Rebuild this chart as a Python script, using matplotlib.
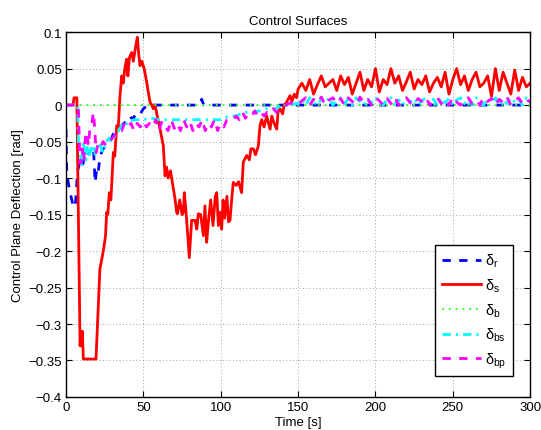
import numpy as np
import matplotlib
matplotlib.use('Agg')
import matplotlib.pyplot as plt

plt.rcParams['font.family'] = ['Liberation Sans', 'DejaVu Sans']
plt.rcParams['mathtext.fontset'] = 'custom'
plt.rcParams['mathtext.rm'] = 'Liberation Sans'
plt.rcParams['mathtext.it'] = 'Liberation Sans'

## data
# tail (150-300 s) sampled every 2.5 s
t_tail = [150 + 2.5*i for i in range(61)]

# delta_s (red)
t_s = [0, 4.5, 5.2, 7.0, 9.1, 9.6, 10.1, 10.6, 11.2, 19.4, 21.9, 24.1, 25.5, 26.3, 27, 28, 29,
       30.6, 31.5, 32.8, 33.8, 34.9, 36, 37, 38, 39.2, 40, 41, 42.5, 43.5, 45, 46.1, 47, 47.8,
       49, 50.5, 52.2, 53, 54.3, 55.5, 56.4, 57.5, 58.5, 60.8, 62.9, 64, 65, 66, 67.5, 69.4,
       70.5, 71.5, 72, 73.5, 75, 75.8, 76.5, 78, 79.7, 81.2, 83.4, 84.5, 85.5, 87, 88.8, 89.8,
       90.9, 92, 93.5, 95, 96.5, 97.4, 98.5, 99.5, 100.6, 101.5, 102.5, 104, 105, 106, 107.1,
       108.1, 110, 111.5, 113.5, 114.6, 116.8, 118.5, 119.5, 121.1, 122.5, 124.3, 125.4, 126.5,
       128, 129.7, 131.9, 133, 134.5, 136.2, 137, 138.3, 140, 141, 142.6, 144.8, 146, 147.5, 149]
d_s = [0, 0, 0.01, 0.01, -0.33, -0.31, -0.33, -0.31, -0.348, -0.348, -0.225, -0.2, -0.18,
       -0.147, -0.15, -0.12, -0.13, -0.065, -0.07, -0.028, -0.03, 0.013, 0.04, 0.03, 0.05,
       0.063, 0.04, 0.065, 0.072, 0.06, 0.08, 0.093, 0.07, 0.054, 0.06, 0.05, 0.031, 0.02,
       0.004, 0.0, -0.005, 0.0, -0.01, -0.033, -0.056, -0.097, -0.085, -0.1, -0.09, -0.115,
       -0.129, -0.147, -0.149, -0.13, -0.15, -0.147, -0.12, -0.158, -0.209, -0.158, -0.158,
       -0.17, -0.149, -0.15, -0.179, -0.138, -0.188, -0.16, -0.13, -0.165, -0.125, -0.12,
       -0.165, -0.147, -0.17, -0.13, -0.155, -0.125, -0.16, -0.158, -0.129, -0.106, -0.11,
       -0.105, -0.12, -0.078, -0.069, -0.075, -0.06, -0.06, -0.068, -0.056, -0.028, -0.02,
       -0.03, -0.015, -0.033, -0.015, -0.025, -0.033, -0.01, -0.005, -0.012, 0.0, 0.004,
       0.013, 0.005, 0.015, 0.01]
d_s_tail = [0.022, 0.03, 0.02, 0.035, 0.015, 0.028, 0.04, 0.025, 0.03, 0.035, 0.02, 0.04,
            0.028, 0.038, 0.015, 0.03, 0.045, 0.02, 0.035, 0.025, 0.05, 0.018, 0.035, 0.028,
            0.05, 0.03, 0.04, 0.02, 0.032, 0.045, 0.022, 0.035, 0.028, 0.04, 0.018, 0.03,
            0.038, 0.025, 0.045, 0.015, 0.035, 0.05, 0.028, 0.04, 0.02, 0.035, 0.045, 0.025,
            0.03, 0.04, 0.012, 0.05, 0.02, 0.045, 0.03, 0.015, 0.048, 0.02, 0.038, 0.025, 0.03]

# delta_r (blue)
t_r = [0, 0.5, 2.6, 4.7, 6, 7.5, 9, 10.5, 12, 13.4, 15, 16.5, 17.7, 18.8, 20, 20.9, 22, 24,
       26, 28.4, 30.5, 32.8, 35, 38.1, 40, 41.4, 43, 45.7, 48, 50, 53, 86, 87.7, 89, 150]
d_r = [-0.033, -0.095, -0.12, -0.138, -0.14, -0.09, -0.078, -0.085, -0.07, -0.074, -0.065,
       -0.06, -0.056, -0.106, -0.085, -0.09, -0.07, -0.06, -0.055, -0.051, -0.04, -0.033,
       -0.03, -0.024, -0.02, -0.015, -0.02, -0.01, -0.012, -0.005, 0.0, 0.0, 0.008, 0.0, 0.0]
d_r_tail = [0.0]*61

# delta_b (green)
t_b = [0, 300]
d_b = [0, 0]

# delta_bs (cyan)
t_bs = [0, 7.5, 8, 9, 10, 11, 12, 13, 14, 15, 16, 17, 18, 19, 20, 22, 24, 26, 28, 30, 32, 34,
        36, 38, 40, 45, 50, 55, 60, 70, 80, 90, 100, 105, 110, 115, 120, 125, 130, 135, 140,
        145, 148]
d_bs = [0, 0, -0.05, -0.06, -0.085, -0.05, -0.06, -0.075, -0.055, -0.07, -0.06, -0.065,
        -0.055, -0.07, -0.06, -0.055, -0.065, -0.05, -0.045, -0.05, -0.04, -0.035, -0.028,
        -0.03, -0.022, -0.02, -0.02, -0.018, -0.02, -0.02, -0.02, -0.02, -0.02, -0.015,
        -0.015, -0.01, -0.01, -0.008, -0.005, -0.005, 0.0, 0.0, 0.002]
d_bs_tail = [0.002, 0.008, 0.0, 0.01, 0.004, 0.0, 0.009, 0.003, 0.01, 0.0, 0.006, 0.01,
             0.002, 0.008, 0.0, 0.01, 0.005, 0.0, 0.009, 0.002, 0.01, 0.004, 0.0, 0.008,
             0.01, 0.002, 0.007, 0.0, 0.01, 0.004, 0.009, 0.0, 0.006, 0.01, 0.002, 0.008,
             0.0, 0.01, 0.003, 0.009, 0.0, 0.007, 0.01, 0.002, 0.008, 0.0, 0.01, 0.005, 0.0,
             0.009, 0.003, 0.01, 0.0, 0.007, 0.002, 0.01, 0.004, 0.008, 0.0, 0.01, 0.005]

# delta_bp (magenta)
t_bp = [0, 8, 9, 10.5, 11.5, 12.5, 13.4, 14.5, 15.5, 16.5, 17.7, 18.5, 19.5, 20.5, 22, 24,
        26, 28, 30, 32, 34, 36, 38, 40, 42, 44, 46, 48, 50, 52, 54, 56, 58, 60, 62, 64, 66,
        68, 70, 72, 74, 76, 78, 80, 82, 84, 86, 88, 90, 92, 94, 96, 98, 100, 102, 104, 106,
        108, 110, 112, 114, 116, 118, 120, 122, 124, 126, 128, 130, 132, 134, 136, 138, 140,
        142, 145, 148]
d_bp = [0, 0, -0.08, -0.06, -0.078, -0.045, -0.037, -0.056, -0.03, -0.028, -0.01, -0.03,
        -0.065, -0.055, -0.06, -0.05, -0.056, -0.05, -0.045, -0.04, -0.033, -0.035, -0.024,
        -0.03, -0.025, -0.035, -0.025, -0.03, -0.022, -0.03, -0.025, -0.03, -0.02, -0.035,
        -0.022, -0.03, -0.035, -0.02, -0.032, -0.025, -0.035, -0.02, -0.03, -0.022, -0.035,
        -0.025, -0.03, -0.02, -0.035, -0.025, -0.03, -0.02, -0.035, -0.025, -0.03, -0.02,
        -0.018, -0.02, -0.015, -0.02, -0.01, -0.018, -0.012, -0.015, -0.008, -0.015, -0.01,
        -0.015, -0.01, -0.012, -0.005, -0.01, -0.005, -0.002, 0.0, 0.003, 0.0]
d_bp_tail = [0.0, 0.006, 0.01, 0.0, 0.008, 0.003, 0.011, 0.0, 0.007, 0.01, 0.002, 0.009,
             0.0, 0.01, 0.005, 0.0, 0.011, 0.003, 0.008, 0.0, 0.01, 0.006, 0.0, 0.009, 0.002,
             0.011, 0.0, 0.007, 0.01, 0.003, 0.0, 0.009, 0.005, 0.011, 0.0, 0.006, 0.01,
             0.002, 0.008, 0.0, 0.011, 0.004, 0.0, 0.009, 0.01, 0.002, 0.007, 0.0, 0.011,
             0.005, 0.009, 0.0, 0.008, 0.003, 0.011, 0.0, 0.006, 0.01, 0.002, 0.008, 0.004]

labels = [r'$\delta_{r}$', r'$\delta_{s}$', r'$\delta_{b}$', r'$\delta_{bs}$', r'$\delta_{bp}$']

## plotting
fs = 9.5
fig = plt.figure(figsize=(5.41, 4.31), dpi=100)
ax = fig.add_axes([0.122, 0.0766, 0.858, 0.8466])

lw = 2.0
ax.plot(t_r + t_tail, d_r + d_r_tail, color='#0000ff', ls=(0, (3, 3)), lw=lw, label=labels[0])
ax.plot(t_s + t_tail, d_s + d_s_tail, color='#ff0000', ls='-', lw=lw, label=labels[1])
ax.plot(t_b, d_b, color='#33ff33', ls=(0, (1, 2.5)), lw=1.4, label=labels[2])
ax.plot(t_bs + t_tail, d_bs + d_bs_tail, color='#00ffff', ls=(0, (3, 1.8, 0.8, 1.8)), lw=lw, label=labels[3])
ax.plot(t_bp + t_tail, d_bp + d_bp_tail, color='#ff00ff', ls=(0, (3, 3)), lw=lw, label=labels[4])

ax.set_xlim(0, 300)
ax.set_ylim(-0.4, 0.1)
ax.set_xticks(np.arange(0, 301, 50))
ax.set_yticks(np.arange(-0.4, 0.101, 0.05))
ax.set_yticklabels(['\u22120.4', '\u22120.35', '\u22120.3', '\u22120.25', '\u22120.2', '\u22120.15',
                    '\u22120.1', '\u22120.05', '0', '0.05', '0.1'])
ax.tick_params(direction='in', top=True, right=True, labelsize=fs, length=4, width=0.8, pad=3)
ax.grid(True, ls=(0, (1, 3)), color='#888888', lw=0.6)
for sp in ax.spines.values():
    sp.set_linewidth(1.0)

ax.set_title('Control Surfaces', fontsize=fs, pad=6)
ax.set_xlabel('Time [s]', fontsize=fs, labelpad=2)
ax.set_ylabel('Control Plane Deflection [rad]', fontsize=fs, labelpad=3)

leg = ax.legend(loc='upper right', bbox_to_anchor=(0.963, 0.416), fontsize=10.5,
                handlelength=2.7, labelspacing=0.5, fancybox=False, framealpha=1,
                edgecolor='black', borderpad=0.45, handletextpad=0.3, borderaxespad=0)
leg.get_frame().set_linewidth(1.0)

fig.savefig('out.png', dpi=100)
